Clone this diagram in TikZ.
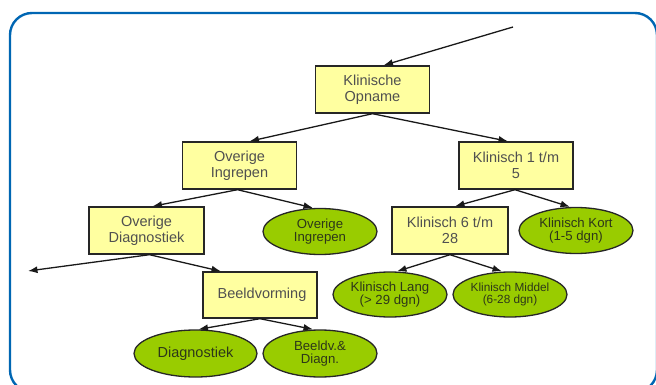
\documentclass[tikz,border=0pt]{standalone}
\usepackage{fontspec}
\setmainfont{Liberation Sans}
\usetikzlibrary{arrows.meta,shapes.geometric}
\definecolor{framebl}{RGB}{0,102,179}
\definecolor{boxyel}{RGB}{255,255,160}
\definecolor{ellgreen}{RGB}{153,204,0}
\definecolor{txtgray}{RGB}{80,80,80}
\definecolor{txtgreen}{RGB}{45,55,25}
\tikzset{
  rectnode/.style={draw=black!85, line width=1.4pt, fill=boxyel, rectangle,
    minimum width=114pt, minimum height=47pt, inner sep=0pt, align=center,
    text=txtgray, font=\fontsize{14.5}{16}\selectfont},
  ellnode/.style={draw=black!85, line width=1.3pt, fill=ellgreen, ellipse,
    minimum width=114pt, minimum height=46pt, inner sep=0pt, align=center,
    text=txtgreen, font=\fontsize{13.2}{13}\selectfont},
  conn/.style={line width=1.3pt, draw=black!90, -{Latex[length=9.5pt,width=7pt]}},
}
\begin{document}
\begin{tikzpicture}[x=1pt,y=-1pt]
\useasboundingbox (0,0) rectangle (656,385);
\draw[framebl, line width=2.4pt, rounded corners=22pt] (10,13) rectangle (657,392);

\node[rectnode] (op) at (372.5,89.5) {Klinische\\Opname};
\node[rectnode] (oi) at (239.5,165.5) {Overige\\Ingrepen};
\node[rectnode] (k15) at (516,165.5) {Klinisch 1 t/m\\5};
\node[rectnode, minimum width=115pt] (od) at (146.5,230.5) {Overige\\Diagnostiek};
\node[ellnode] (oie) at (320,231.5) {Overige\\Ingrepen};
\node[rectnode, minimum width=116pt] (k628) at (450,230.5) {Klinisch 6 t/m\\28};
\node[ellnode] (kk) at (576,230.5) {Klinisch Kort\\(1-5 dgn)};
\node[rectnode, minimum height=46pt] (bv) at (260,295) {\hspace*{4pt}Beeldvorming};
\node[ellnode, minimum height=45pt] (kl) at (390,294.5) {Klinisch Lang\\(> 29 dgn)};
\node[ellnode, minimum height=45pt, font=\fontsize{11.8}{12}\selectfont] (km) at (510,294.5) {Klinisch Middel\\(6-28 dgn)};
\node[ellnode, minimum width=123pt, minimum height=47pt, font=\fontsize{14.5}{16}\selectfont] (di) at (195.5,353.5) {Diagnostiek};
\node[ellnode, minimum height=47pt] (bd) at (320,353.5) {Beeldv.\&\\Diagn.};

\coordinate (in) at (513,27);
\coordinate (lft) at (28,271);

\draw[conn] (in) -- ([xshift=11pt]op.north);
\draw[conn] (op.south) -- ([xshift=10pt]oi.north);
\draw[conn] (op.south) -- ([xshift=-8pt]k15.north);
\draw[conn] ([xshift=-2pt]oi.south) -- ([xshift=6pt]od.north);
\draw[conn] ([xshift=-2pt]oi.south) -- ([xshift=-7pt]oie.north);
\draw[conn] ([xshift=-1pt]k15.south) -- ([xshift=5pt]k628.north);
\draw[conn] ([xshift=-1pt]k15.south) -- ([xshift=-6pt]kk.north);
\draw[conn] ([xshift=3pt]od.south) -- (lft);
\draw[conn] ([xshift=3pt]od.south) -- ([xshift=-39pt]bv.north);
\draw[conn] (k628.south) -- ([xshift=7pt]kl.north);
\draw[conn] (k628.south) -- ([xshift=-8pt]km.north);
\draw[conn] (bv.south) -- ([xshift=3pt]di.north);
\draw[conn] (bv.south) -- ([xshift=-7pt]bd.north);
\end{tikzpicture}
\end{document}
